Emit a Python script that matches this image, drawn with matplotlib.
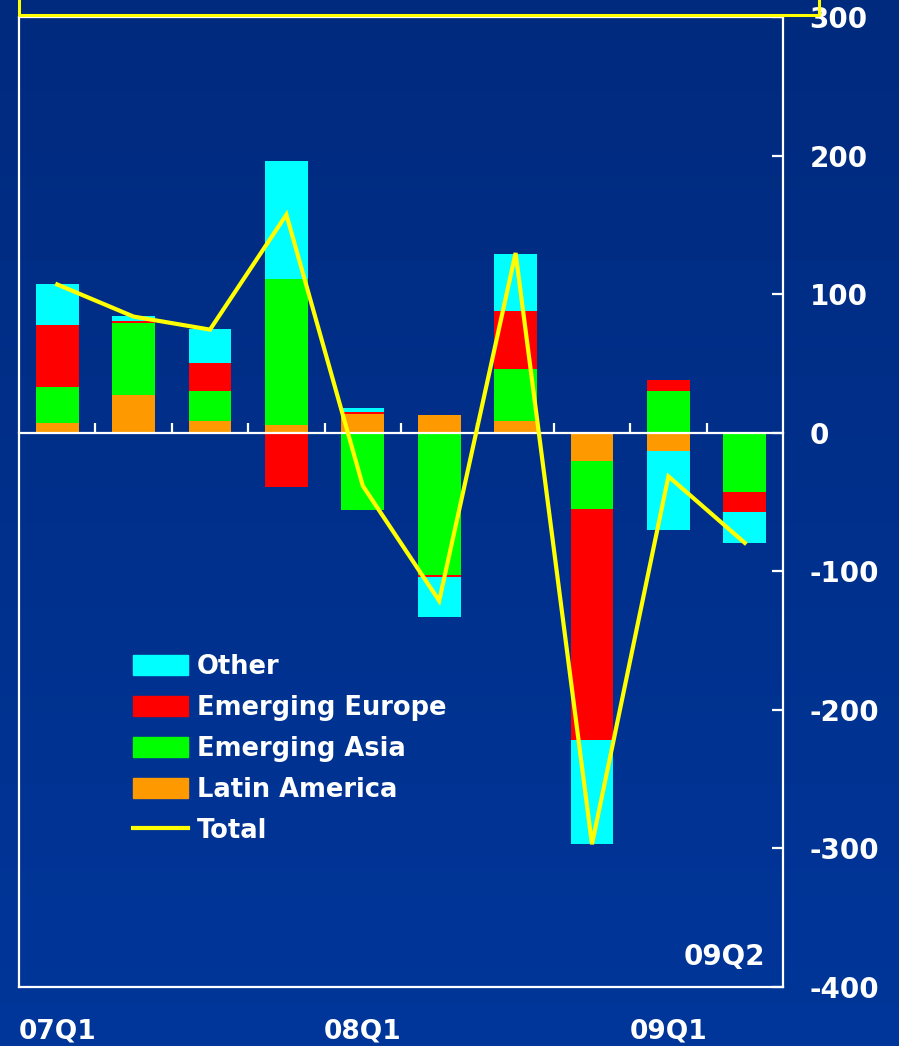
import matplotlib
matplotlib.use('Agg')
import matplotlib.pyplot as plt
from matplotlib.lines import Line2D
from matplotlib.patches import Patch
import numpy as np

plt.rcParams['font.family'] = ['DejaVu Sans']
plt.rcParams['font.weight'] = 'bold'
plt.rcParams['axes.unicode_minus'] = False

quarters = ['07Q1', '07Q2', '07Q3', '07Q4', '08Q1', '08Q2', '08Q3', '08Q4', '09Q1', '09Q2']
shown_labels = ['07Q1', '08Q1', '09Q1']

latin = [7, 27.5, 8.7, 5.8, 13.2, 13, 8.7, -20.2, -13, 0]
asia = [26, 51.5, 21.6, 105.4, -56.1, -102.5, 37, -35.2, 30, -42.5]
europe = [44.5, 1.5, 19.7, -39, 1.5, -1.5, 42.3, -166, 8, -14.4]
other = [29.5, 3.5, 25, 85.2, 3.4, -29, 41, -75.5, -57.5, -22.4]
total = [107, 83.8, 74.4, 157.4, -38.3, -121.3, 129.7, -297, -31.5, -79.5]

series = [('Latin America', latin, '#FF9900'),
          ('Emerging Asia', asia, '#00FF00'),
          ('Emerging Europe', europe, '#FF0000'),
          ('Other', other, '#00FFFF')]

W, H = 899, 1046
fig = plt.figure(figsize=(W / 100, H / 100), dpi=100)

# gradient background over the whole figure
bg = fig.add_axes([0, 0, 1, 1], zorder=-10)
grad = np.linspace(0, 1, 256).reshape(-1, 1)
top_c = np.array([0, 42, 126]) / 255
bot_c = np.array([0, 54, 154]) / 255
img = top_c + (bot_c - top_c) * grad[..., None]
bg.imshow(img, aspect='auto', extent=[0, 1, 0, 1])
bg.axis('off')

ax = fig.add_axes([19 / W, (H - 987) / H, 764 / W, 970 / H])
ax.patch.set_alpha(0)

x = np.arange(len(quarters))
pos_base = np.zeros(len(quarters))
neg_base = np.zeros(len(quarters))
for name, vals, col in series:
    v = np.array(vals, dtype=float)
    base = np.where(v >= 0, pos_base, neg_base)
    ax.bar(x, v, 0.56, bottom=base, color=col, linewidth=0, zorder=2)
    pos_base += np.where(v >= 0, v, 0)
    neg_base += np.where(v < 0, v, 0)

ax.plot(x, total, color='#FFFF00', lw=3, zorder=3, solid_joinstyle='miter')

ax.set_xlim(-0.5, len(quarters) - 0.5)
ax.set_ylim(-400, 300)

# frame
for s in ['left', 'top', 'right']:
    ax.spines[s].set_color('white')
    ax.spines[s].set_linewidth(1.6)
ax.spines['bottom'].set_position(('data', 0))
ax.spines['bottom'].set_color('white')
ax.spines['bottom'].set_linewidth(1.6)

ax.set_xticks(np.arange(len(quarters) - 1) + 0.5)
ax.tick_params(axis='x', direction='in', length=7.5, width=1.6, color='white',
               labelbottom=False)

ax.yaxis.tick_right()
ax.set_yticks(np.arange(-400, 301, 100))
ax.set_yticklabels([str(v) for v in range(-400, 301, 100)])
ax.tick_params(axis='y', direction='in', length=8, width=1.6, color='white',
               labelcolor='white', labelsize=20, pad=19)
for t in ax.get_yticklabels():
    t.set_horizontalalignment('left')

sec = ax.secondary_xaxis(0.0)
sec.set_xticks([quarters.index(q) for q in shown_labels])
sec.set_xticklabels(shown_labels)
sec.tick_params(length=0, pad=23, labelcolor='white', labelsize=19)
sec.spines['bottom'].set_color('white')
sec.spines['bottom'].set_linewidth(1.6)

ax.text(0.9764, 0.0227, '09Q2', transform=ax.transAxes, ha='right', va='baseline',
        color='white', fontsize=20, fontweight='bold')

handles = [Patch(color='#00FFFF', label='Other'),
           Patch(color='#FF0000', label='Emerging Europe'),
           Patch(color='#00FF00', label='Emerging Asia'),
           Patch(color='#FF9900', label='Latin America'),
           Line2D([], [], color='#FFFF00', lw=3, label='Total')]
leg = ax.legend(handles=handles, loc='upper left', bbox_to_anchor=(0.149, 0.3433),
                frameon=False, fontsize=18.5, handlelength=2.15, handleheight=0.8,
                handletextpad=0.35, labelspacing=0.58, borderpad=0, borderaxespad=0)
for t in leg.get_texts():
    t.set_color('white')
    t.set_fontweight('bold')

# stray yellow box edge at the top of the slide
yl = (H - 15) / H
fig.add_artist(Line2D([19 / W, 19 / W, 819 / W, 819 / W], [1.0, yl, yl, 1.0],
                      color='#FFFF00', lw=2.2, transform=fig.transFigure, zorder=5))

fig.savefig('out.png', dpi=100)
